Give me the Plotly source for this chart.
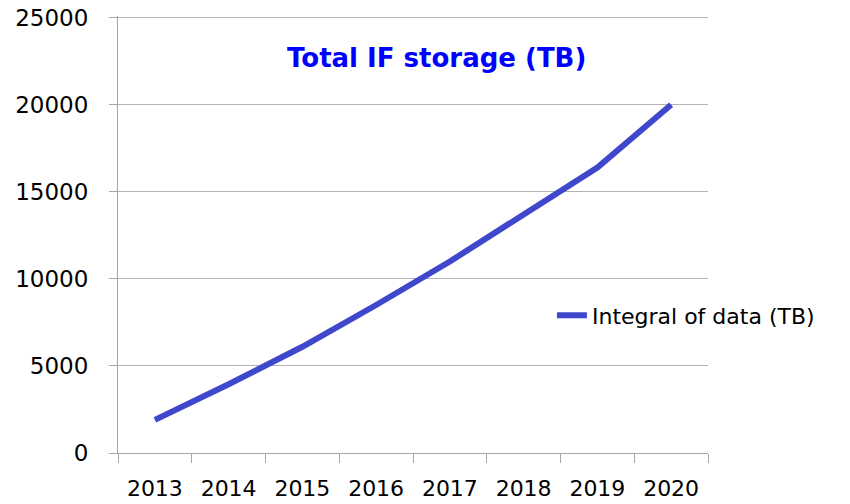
import plotly.graph_objects as go

years = ["2013", "2014", "2015", "2016", "2017", "2018", "2019", "2020"]
integral_tb = [1900, 3950, 6100, 8500, 11000, 13700, 16400, 20000]
y_ticks = [0, 5000, 10000, 15000, 20000, 25000]
y_tick_labels = ["0", "5000", "10000", "15000", "20000", "25000"]
series_name = "Integral of data (TB)"
title_text = "Total IF storage (TB)"

fig = go.Figure()
fig.add_trace(go.Scatter(
    x=years, y=integral_tb, mode="lines", name=series_name,
    line=dict(color="#3F48CC", width=6),
))

fig.update_layout(
    width=850, height=504,
    margin=dict(l=118, r=142, t=16, b=51),
    paper_bgcolor="white", plot_bgcolor="white",
    showlegend=True,
    legend=dict(x=0.7355, y=0.315, xanchor="left", yanchor="middle",
                font=dict(family="DejaVu Sans", size=22, color="black"),
                bgcolor="rgba(0,0,0,0)", itemwidth=30),
    annotations=[dict(text="<b>" + title_text + "</b>", x=0.539, y=0.904,
                      xref="paper", yref="paper", showarrow=False,
                      xanchor="center", yanchor="middle",
                      font=dict(family="DejaVu Sans", size=26, color="#0000FF"))],
)
fig.update_xaxes(
    type="category", range=[-0.5, 7.5], tickson="boundaries", automargin=False,
    showgrid=False, showline=True, linecolor="#A6A6A6", linewidth=1,
    ticks="outside", ticklen=9, tickcolor="#A6A6A6",
    tickfont=dict(family="DejaVu Sans", size=22, color="black"),
    ticklabelstandoff=16,
)
fig.update_yaxes(
    range=[0, 25100], tickvals=y_ticks, ticktext=y_tick_labels, automargin=False,
    ticklabeloverflow="allow",
    showgrid=True, gridcolor="#B3B3B3",
    showline=True, linecolor="#A6A6A6", linewidth=1,
    ticks="outside", ticklen=8, tickcolor="#A6A6A6",
    tickfont=dict(family="DejaVu Sans", size=23, color="black"),
    ticklabelstandoff=16, zeroline=False,
)
fig.write_html("out.html", config={"displayModeBar": False},
               post_script="document.body.style.margin='0';")
